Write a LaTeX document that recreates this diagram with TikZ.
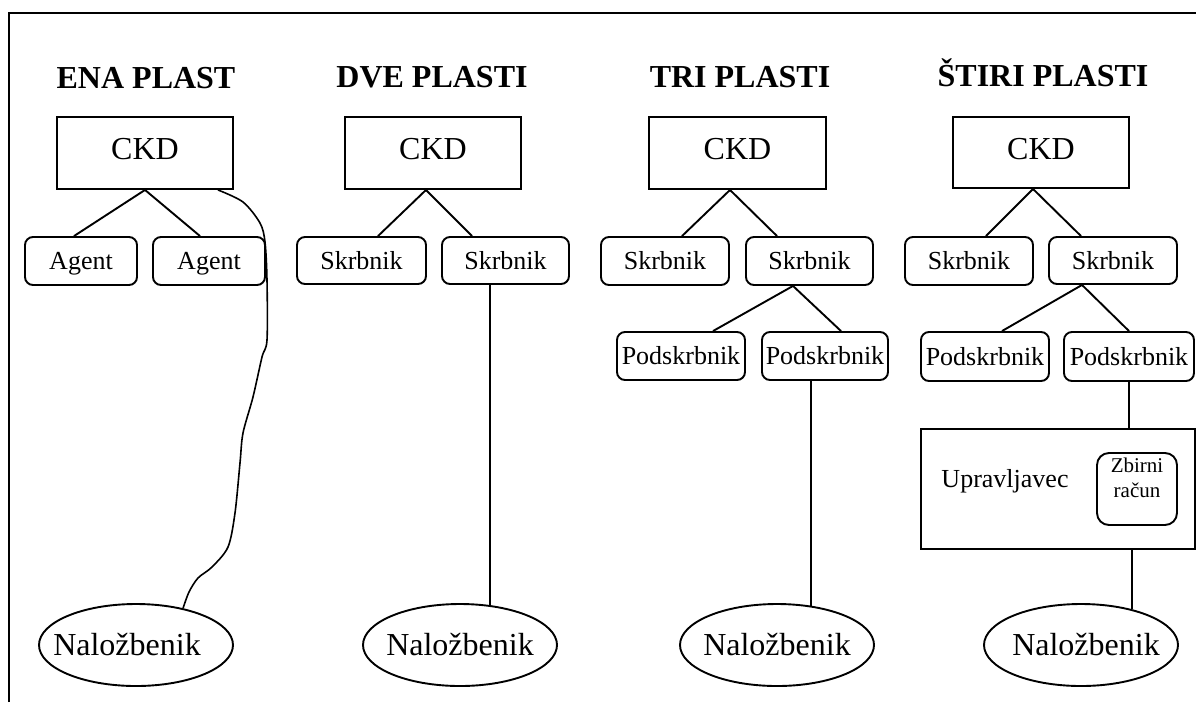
\documentclass[tikz,border=0pt]{standalone}
\usepackage{fontspec}
\setmainfont{Liberation Serif}
\usetikzlibrary{shapes.geometric}
\begin{document}
\begin{tikzpicture}[x=1pt,y=-1pt,line width=1.9pt,
  title/.style={font=\fontsize{32}{36}\selectfont\bfseries,anchor=base,inner sep=0pt},
  ckdbox/.style={draw,minimum width=176pt,minimum height=72pt,inner sep=0pt,
    font=\fontsize{32}{36}\selectfont,text height=21pt,text depth=8pt},
  rbox/.style={draw,rounded corners=8pt,minimum width=128pt,minimum height=48pt,inner sep=0pt,
    font=\fontsize{26}{30}\selectfont,text height=17pt,text depth=0pt},
  nal/.style={draw,ellipse,minimum width=194pt,minimum height=82pt,inner ysep=0pt,inner xsep=-25pt,
    font=\fontsize{32}{36}\selectfont,text height=21pt,text depth=0pt},
  plainbox/.style={draw,inner sep=0pt},
  lbl/.style={inner sep=0pt}]
\fill[white] (0,0) rectangle (1196,702);
\useasboundingbox (0,0) rectangle (1196,702);
\draw[line width=2pt] (9,702) -- (9,13) -- (1196,13);

% column 1
\node[title] (t1) at (146,88) {ENA PLAST};
\node[ckdbox] (ckd1) at (145,153) {CKD};
\node[rbox,minimum width=112pt] (a1) at (81,261) {Agent};
\node[rbox,minimum width=112pt] (a2) at (209,261) {Agent};
\node[nal] (n1) at (136,645) {Naložbenik\hspace*{18pt}};
\draw (ckd1.south) -- ([xshift=-7pt]a1.north);
\draw (ckd1.south) -- ([xshift=-9pt]a2.north);
\draw[line width=1.6pt] plot[smooth,tension=0.5] coordinates {([xshift=-16pt]ckd1.south east) (243,202) (260,223) (265,242) (267,280) (267,340) (262,357) (253,397) (243,433) (240,463) (235,513) (228,547) (212,567) (198,578) (189,592) (n1.38)};

% column 2
\node[title] (t2) at (432,87) {DVE PLASTI};
\node[ckdbox] (ckd2) at (433,153) {CKD};
\node[rbox,minimum width=129pt,minimum height=47pt] (s21) at (361.5,260.5) {Skrbnik};
\node[rbox,minimum width=127pt,minimum height=47pt] (s22) at (505.5,260.5) {Skrbnik};
\node[nal] (n2) at (460,645) {Naložbenik};
\draw ([xshift=-7pt]ckd2.south) -- ([xshift=16.5pt]s21.north);
\draw ([xshift=-7pt]ckd2.south) -- ([xshift=-33.5pt]s22.north);
\draw (s22.south -| n2.53) -- (n2.53);

% column 3
\node[title] (t3) at (740,87) {TRI PLASTI};
\node[ckdbox,minimum width=177pt] (ckd3) at (737.5,153) {CKD};
\node[rbox] (s31) at (665,261) {Skrbnik};
\node[rbox,minimum width=127pt] (s32) at (809.5,261) {Skrbnik};
\node[rbox] (p31) at (681,356) {Podskrbnik};
\node[rbox,minimum width=126pt] (p32) at (825,356) {Podskrbnik};
\node[nal] (n3) at (777,645) {Naložbenik};
\draw ([xshift=-7.5pt]ckd3.south) -- ([xshift=17pt]s31.north);
\draw ([xshift=-7.5pt]ckd3.south) -- ([xshift=-32.5pt]s32.north);
\draw ([xshift=-16.5pt]s32.south) -- ([xshift=32pt]p31.north);
\draw ([xshift=-16.5pt]s32.south) -- ([xshift=16pt]p32.north);
\draw (p32.south -| n3.49) -- (n3.49);

% column 4
\node[title] (t4) at (1043,86) {ŠTIRI PLASTI};
\node[ckdbox,minimum height=71pt] (ckd4) at (1041,152.5) {CKD};
\node[rbox] (s41) at (969,261) {Skrbnik};
\node[rbox,minimum height=47pt] (s42) at (1113,260.5) {Skrbnik};
\node[rbox,minimum height=49pt] (p41) at (985,356.5) {Podskrbnik};
\node[rbox,minimum width=130pt,minimum height=49pt] (p42) at (1129,356.5) {Podskrbnik};
\node[plainbox,minimum width=274pt,minimum height=120pt] (upr) at (1058,489) {};
\node[lbl,font=\fontsize{26}{30}\selectfont,text height=17pt,text depth=0pt] (uprt) at (1005,479) {Upravljavec};
\node[rbox,minimum width=80pt,minimum height=72pt,rounded corners=12pt] (zr) at (1137,489) {};
\node[lbl,font=\fontsize{21}{25}\selectfont,align=center] (zrt) at (1137,478) {Zbirni\\račun};
\node[nal] (n4) at (1081,645) {\hspace*{10pt}Naložbenik};
\draw ([xshift=-8pt]ckd4.south) -- ([xshift=17pt]s41.north);
\draw ([xshift=-8pt]ckd4.south) -- ([xshift=-32pt]s42.north);
\draw ([xshift=-31pt]s42.south) -- ([xshift=17pt]p41.north);
\draw ([xshift=-31pt]s42.south) -- (p42.north);
\draw (p42.south) -- (p42.south |- upr.north);
\draw (upr.south -| n4.35) -- (n4.35);
\end{tikzpicture}
\end{document}
